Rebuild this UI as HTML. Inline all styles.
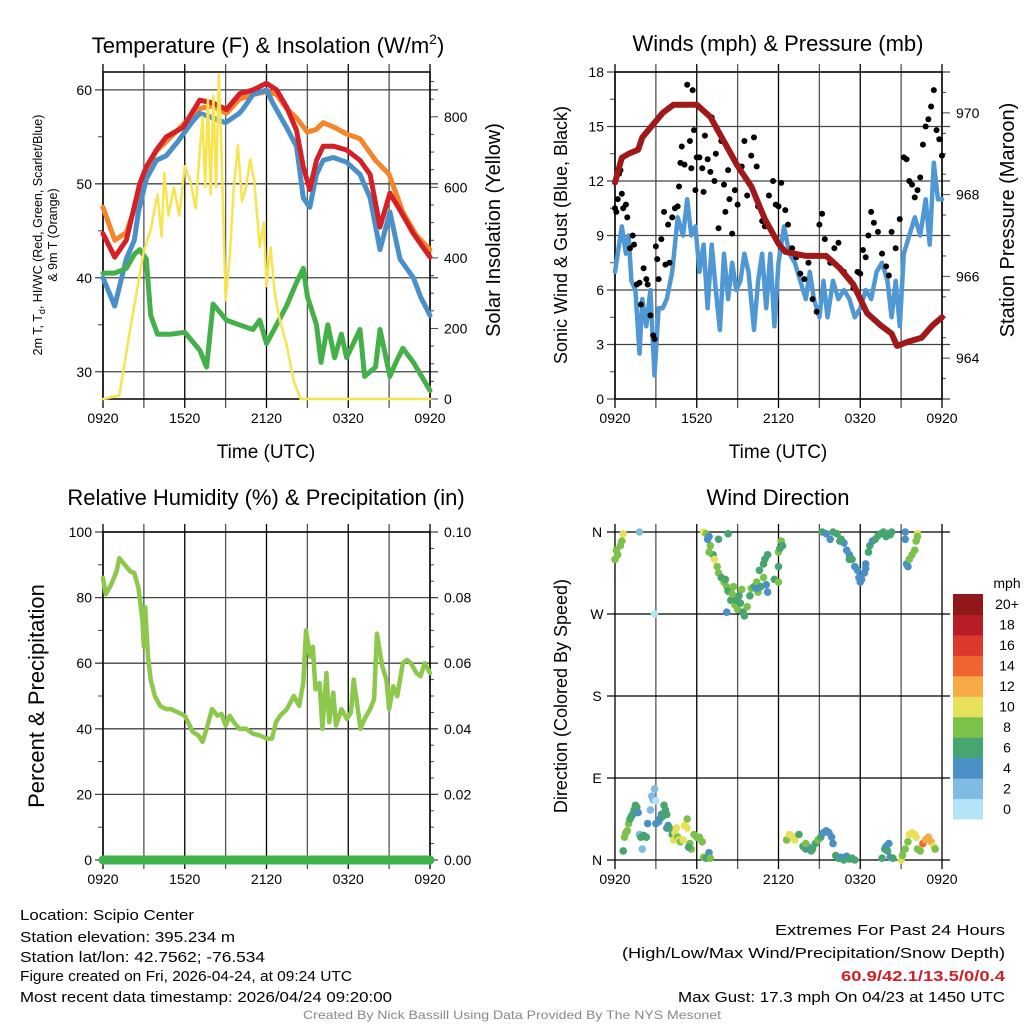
<!DOCTYPE html>
<html><head><meta charset="utf-8">
<style>
html,body{margin:0;padding:0;background:#fff;}
svg{display:block;font-family:"Liberation Sans",Arial,sans-serif;}
</style></head>
<body>
<svg id="fig" width="1024" height="1024" viewBox="0 0 1024 1024" xmlns="http://www.w3.org/2000/svg">
<rect width="1024" height="1024" fill="#fff"/>
<g id="p1"></g>
<g id="p2"></g>
<g id="p3"></g>
<g id="p4"></g>
<g font-family="'Liberation Sans Narrow','Liberation Sans',sans-serif" font-size="15" fill="#000">
<text x="20" y="920" textLength="174" lengthAdjust="spacingAndGlyphs">Location: Scipio Center</text>
<text x="20" y="942" textLength="215" lengthAdjust="spacingAndGlyphs">Station elevation: 395.234 m</text>
<text x="20" y="962" textLength="245" lengthAdjust="spacingAndGlyphs">Station lat/lon: 42.7562; -76.534</text>
<text x="20" y="981" textLength="332" lengthAdjust="spacingAndGlyphs">Figure created on Fri, 2026-04-24, at 09:24 UTC</text>
<text x="20" y="1002" textLength="372" lengthAdjust="spacingAndGlyphs">Most recent data timestamp: 2026/04/24 09:20:00</text>
<text x="775" y="935" textLength="230" lengthAdjust="spacingAndGlyphs">Extremes For Past 24 Hours</text>
<text x="622" y="958" textLength="383" lengthAdjust="spacingAndGlyphs">(High/Low/Max Wind/Precipitation/Snow Depth)</text>
<text x="841" y="981" textLength="164" lengthAdjust="spacingAndGlyphs" font-weight="bold" fill="#d0202a">60.9/42.1/13.5/0/0.4</text>
<text x="678" y="1002" textLength="327" lengthAdjust="spacingAndGlyphs">Max Gust: 17.3 mph On 04/23 at 1450 UTC</text>
<text x="303" y="1019" textLength="418" lengthAdjust="spacingAndGlyphs" font-size="12" fill="#888">Created By Nick Bassill Using Data Provided By The NYS Mesonet</text>
</g>
</svg>
<script>
// ---------- DATA (time in hours since 0920 UTC) ----------
const xTickLabels = ["0920","1520","2120","0320","0920"];
const tempTicks = [30,40,50,60];
const solarTicks = [0,200,400,600,800];
const windTicks = [0,3,6,9,12,15,18];
const presTicks = [964,966,968,970];
const rhTicks = [0,20,40,60,80,100];
const precipTicks = ["0.00","0.02","0.04","0.06","0.08","0.10"];
const dirTicks = ["N","E","S","W","N"];
const speedClasses = ["0","2","4","6","8","10","12","14","16","18","20+"];
const speedColors = ["#b5e3f8","#7fbbe3","#4a8fc5","#47a56f","#7cc24a","#e6e05a","#f5a947","#ef6430","#dc382c","#b81d25","#8f181b"];

const redT = [0,44.7, 0.86,42.2, 1.71,44, 2.69,50, 3.18,51.8, 3.92,53.6, 4.65,55, 5.88,56, 7.1,58.9, 8.08,58.6, 9.06,57.9, 10.04,59.6, 11.02,60, 12,60.7, 12.74,60, 13.47,58.2, 14.2,55.7, 14.7,51.8, 15.18,49.4, 15.67,52.5, 16.16,54, 16.9,54, 17.88,53.6, 18.86,52.5, 19.6,51, 20.33,45.4, 21.06,49, 21.8,47.2, 22.78,44.7, 24,42.2];
const orangeT = [0,47.5, 0.86,44, 1.71,44.8, 2.69,49, 3.18,51.5, 3.92,53.5, 5,55, 6,56.5, 7.1,58, 8.08,58.3, 9.06,57.5, 10,59, 11,59.5, 12,59.8, 12.74,59.5, 13.47,58, 14.2,57, 15,55.5, 15.67,55.8, 16.16,56.5, 17,56, 17.88,55.3, 18.86,54.8, 20,52.5, 21,51, 22,47, 23,44.5, 24,43];
const blueT = [0,40, 0.86,37, 1.71,42, 2.3,44, 2.6,47, 3.18,50.5, 3.92,52.5, 4.65,53, 5.5,54.5, 6.5,56.5, 7.1,57.5, 8.08,57, 9,56.5, 10,57.5, 10.3,58, 11,59.5, 12,60, 12.5,58.5, 13.47,56, 14.2,54, 14.7,48.5, 15.18,47.5, 15.67,51, 16.16,52.5, 16.9,52.8, 17.88,52.3, 18.86,51, 19.6,48.5, 20.33,43, 21.06,47, 21.8,42, 22.78,40, 23.3,38, 24,36];
const greenTd = [0,40.5, 0.86,40.5, 1.71,41, 2.3,42.5, 2.69,43, 3.18,42, 3.5,36, 4,34, 5,34, 6,34.2, 7.1,32.3, 7.6,30.5, 8.08,37.2, 9.06,35.5, 10,35, 11,34.5, 11.5,35.5, 12,33, 12.74,35, 13.47,37, 14.2,39.5, 14.7,41, 15,38, 15.67,35, 16,31, 16.5,35, 17,31.5, 17.5,34, 17.88,31.5, 18.86,34.5, 19.2,29.5, 20,30.5, 20.33,34.5, 21.06,29.5, 21.5,31, 22,32.5, 22.78,31, 24,28];
const solar = [0,0, 1.2,10, 2,200, 3,420, 3.5,480, 4,580, 4.3,460, 4.5,640, 4.8,520, 5.2,600, 5.6,520, 6,660, 6.4,620, 6.8,540, 7.1,700, 7.3,800, 7.5,600, 7.7,850, 7.9,580, 8.1,860, 8.3,600, 8.5,920, 8.7,700, 9,280, 9.3,400, 9.6,600, 9.9,720, 10.2,560, 10.5,600, 10.8,680, 11.1,620, 11.5,430, 11.8,500, 12,320, 12.3,430, 12.6,300, 13,220, 13.5,150, 14,50, 14.5,0, 24,0];

const pressure = [0,968.3, 0.5,968.9, 1,969.0, 1.7,969.1, 2,969.4, 3,969.8, 3.5,970.0, 4.3,970.2, 5,970.2, 6,970.2, 7,969.9, 8,969.3, 9,968.7, 10,968.2, 11,967.4, 12,966.8, 12.5,966.6, 14,966.5, 15.5,966.5, 16.5,966.2, 17.5,965.8, 18.5,965.1, 19.5,964.8, 20.3,964.6, 20.7,964.3, 21.5,964.4, 22.5,964.5, 23.3,964.8, 24,965.0];
const windSpeed = [0,7, 0.3,8.5, 0.5,9.5, 0.8,8, 1,9, 1.2,6.5, 1.5,6, 1.8,2.5, 2,5.5, 2.3,4, 2.6,6, 2.9,1.3, 3.2,5, 3.5,5, 3.8,5.5, 4.2,7, 4.6,10, 5,9, 5.3,11, 5.6,9, 5.9,9.5, 6.2,7, 6.5,8.5, 6.8,5, 7.1,8.5, 7.4,6, 7.7,3.8, 8,8, 8.3,5.5, 8.6,7.5, 8.9,6, 9.2,6.5, 9.5,8, 9.8,7, 10.2,3.8, 10.5,6.5, 10.8,8, 11.1,5, 11.4,8, 11.7,4, 12,7.5, 12.4,9.5, 12.8,8, 13.2,7.5, 13.6,6.5, 14,5.5, 14.3,7, 14.6,5.5, 15,4.5, 15.3,6.5, 15.6,4.5, 16,6.5, 16.4,5.5, 16.8,6, 17.2,5.5, 17.6,4.5, 18,5, 18.4,6, 18.8,5.5, 19.2,7, 19.6,7.5, 20,6.5, 20.3,4.5, 20.6,6.5, 20.9,4, 21.2,8, 21.6,9, 22,10, 22.4,9, 22.8,11, 23.1,8.5, 23.4,13, 23.7,11, 24,11];
const gusts = [0,10.5, 0.1,10.3, 0.2,11, 0.3,12.4, 0.4,12.6, 0.5,11.3, 0.6,10.5, 0.8,10.7, 0.9,10, 1.1,8.3, 1.3,9, 1.4,8.5, 1.6,6.3, 1.8,6.4, 1.9,5.2, 2.1,7.2, 2.3,6.6, 2.4,6.3, 2.6,4.6, 2.8,3.5, 2.9,3.3, 3.0,8.4, 3.1,7.7, 3.2,6.6, 3.4,8.8, 3.6,10.3, 3.7,7.4, 3.9,9.6, 4.0,7.5, 4.2,10, 4.4,10.5, 4.6,10.6, 4.7,11.7, 4.8,13, 4.9,13.9, 5.1,12.9, 5.3,17.3, 5.5,14.2, 5.6,12.7, 5.7,17, 5.8,14.8, 5.9,11.5, 6,13.3, 6.2,13.3, 6.4,12.7, 6.5,11.4, 6.6,14.5, 6.8,13.2, 7,12.5, 7.1,15.5, 7.3,12, 7.4,13.5, 7.6,9.4, 7.8,14.2, 8,11.8, 8.1,10.3, 8.3,12.6, 8.4,11, 8.6,9.1, 8.8,11.5, 9,10.7, 9.3,12.8, 9.5,14.2, 9.7,11.2, 10,13.4, 10.2,14.4, 10.4,12.8, 10.5,10.6, 10.8,9.8, 11,9.5, 11.3,11.2, 11.6,12, 11.8,10.7, 12,10.6, 12.2,11.9, 12.5,10.4, 12.7,9.6, 13,8.3, 13.3,7.8, 13.6,6.9, 13.9,6.6, 14.2,7.5, 14.5,5.5, 14.8,4.8, 15,9.6, 15.2,10.2, 15.4,8.8, 15.8,7.5, 16.1,8.3, 16.4,8.6, 16.8,7, 17.2,6.6, 17.5,6.1, 17.8,7, 18,6.9, 18.2,8.2, 18.4,7.8, 18.6,9, 18.8,10.3, 19,9.7, 19.3,9.2, 19.6,8, 19.9,7.3, 20.1,6.8, 20.3,9.2, 20.6,8.3, 20.9,9.9, 21.2,13.3, 21.4,13.2, 21.6,12, 21.8,11.8, 22,11.1, 22.2,11.5, 22.4,12.2, 22.6,14, 22.8,15, 23,15.4, 23.2,16.1, 23.4,17, 23.6,14.8, 23.8,14.3, 24,13.4];

const rh = [0,86, 0.2,81, 0.6,84, 1,88, 1.2,92, 1.6,90, 2,88, 2.3,87.5, 2.6,83, 2.9,73, 3.0,65, 3.1,77, 3.3,62, 3.5,55, 3.8,50, 4.2,47, 4.6,46, 5,46, 5.5,45, 6,44, 6.6,39, 7,38, 7.3,36, 7.6,40, 8,46, 8.4,44, 8.7,44.5, 9,41, 9.3,44, 9.6,42, 10,40, 10.5,40, 11,38.5, 11.5,38, 12,37, 12.4,37, 12.7,42, 13,44, 13.5,46, 14,50, 14.4,47, 14.7,54, 14.9,70, 15.2,62, 15.4,65, 15.6,52, 15.9,54, 16.1,40, 16.4,57, 16.6,42, 16.9,51, 17.1,41, 17.5,46, 17.9,43, 18.2,45, 18.4,55, 18.7,46, 18.9,40, 19.2,43, 19.6,46, 19.9,49, 20.1,69, 20.3,64, 20.5,59, 20.8,55, 21.0,46, 21.3,53, 21.6,50, 22,60, 22.3,61, 22.6,60, 23,57, 23.3,56, 23.6,60, 24,57];
const precip = [0,0, 24,0];

// wind direction points: hour, degrees, speed(mph)
const dirPoints = [0,330,8, 0.2,335,8, 0.4,345,8, 0.5,350,8, 0.6,358,10, 0.1,340,8, 1.8,360,2, 2.9,270,0,
6.5,360,10, 6.7,358,8, 6.9,355,4, 7.0,345,8, 7.2,335,6, 7.3,330,10, 7.5,322,8, 7.6,315,8, 7.8,310,6, 8.0,305,8, 8.2,300,8, 8.3,295,6, 8.5,285,6, 8.6,292,8, 8.8,280,8, 8.9,285,6, 9.0,275,8, 9.1,290,6, 9.2,282,6, 9.4,272,6, 9.5,268,6, 8.2,272,4, 8.7,300,8, 9.3,297,8, 9.7,278,8, 9.9,290,6, 10.0,298,8, 10.2,300,6, 10.4,305,8, 10.5,294,8, 10.7,300,6, 10.9,310,8, 11.1,302,4, 11.2,294,4, 10.6,318,6, 10.9,325,6, 11.0,330,6, 11.2,335,6, 10.4,298,4, 12.0,338,8, 12.1,342,6, 12.2,350,8, 12.0,322,6, 12.3,345,6, 11.7,308,6, 12.0,305,8, 8.3,358,6, 8.1,308,6, 7.6,352,6, 6.8,352,4, 6.9,338,8,
15.2,360,6, 15.5,358,4, 15.8,352,4, 16.0,360,6, 16.3,358,6, 16.5,350,6, 16.8,348,4, 17.0,340,4, 17.2,335,4, 17.4,330,6, 17.6,322,4, 17.8,318,4, 17.9,310,4, 18.0,305,4, 18.1,308,4, 18.3,315,4, 18.4,325,4, 18.6,338,6, 18.7,345,6, 18.9,350,4, 19.1,352,6, 19.3,356,6, 19.5,358,6, 19.7,360,6, 19.9,355,6, 20.0,358,6, 20.2,357,6, 20.3,360,6, 16.6,352,6, 17.2,330,6, 18.4,320,4, 21.3,360,4, 21.3,352,4, 21.4,325,4, 21.5,322,4, 21.6,330,8, 21.8,335,8, 22.0,340,8, 22.1,350,8, 22.2,358,10, 22.2,355,8,
0.6,10,6, 0.7,25,8, 0.8,30,8, 0.9,32,8, 1.0,40,8, 1.1,45,6, 1.2,48,6, 1.3,50,6, 1.4,55,6, 1.5,60,6, 1.6,58,6, 1.7,52,4, 1.8,28,2, 1.9,25,6, 2.0,12,2, 2.1,27,6, 2.3,25,6, 2.4,40,4, 2.6,55,2, 2.7,70,2, 2.8,66,2, 2.9,78,2, 3.0,65,0, 3.0,40,4, 3.2,42,4, 3.3,45,4, 3.4,50,4, 3.5,48,6, 3.6,60,6, 3.7,55,6, 3.8,50,6, 3.9,38,4, 3.8,35,4, 4.0,35,6, 4.2,28,6, 4.3,22,10, 4.4,30,10, 4.5,35,10, 4.6,25,8, 4.7,22,10, 4.8,20,8, 5.0,22,10, 5.1,38,10, 5.3,45,8, 5.3,35,10, 5.5,18,8, 5.6,12,8, 6.0,25,8, 6.2,25,8, 6.4,20,8, 6.5,3,8, 6.7,2,6, 6.9,8,4, 7.0,2,8, 5.8,28,8, 5.4,14,6,
12.6,22,8, 12.8,28,10, 13.0,26,10, 13.2,22,10, 13.5,28,6, 13.8,15,6, 14.0,12,6, 14.2,14,4, 14.5,12,6, 14.7,18,6, 14.9,22,8, 15.1,25,6, 15.3,30,4, 15.5,32,4, 15.7,30,4, 15.9,25,4, 16.0,18,4, 16.2,5,6, 16.4,2,6, 16.6,3,4, 16.8,0,6, 17.0,4,4, 17.2,1,6, 17.4,2,6, 17.6,0,6, 14.4,10,6, 14.0,18,8,
19.6,2,6, 19.8,12,6, 19.9,15,4, 20.1,18,4, 20.0,10,6, 20.2,3,4, 20.4,2,6, 21.0,0,10, 21.1,5,8, 21.3,12,8, 21.5,20,8, 21.6,28,10, 21.8,30,10, 22.0,28,10, 22.1,25,10, 22.2,12,8, 22.4,10,8, 22.6,18,14, 22.8,22,12, 23.0,25,12, 23.2,20,12, 23.4,15,10, 23.5,12,8];

// ---------- helpers ----------
const NS = "http://www.w3.org/2000/svg";
function mk(parent, tag, attrs, text){
  const e = document.createElementNS(NS, tag);
  for (const k in attrs) e.setAttribute(k, attrs[k]);
  if (text !== undefined) e.textContent = text;
  parent.appendChild(e);
  return e;
}
function linScale(d0,d1,r0,r1){ return v => r0 + (v-d0)*(r1-r0)/(d1-d0); }

function frame(g, L, R, T, B, xs){
  // vertical grid lines every 3h
  for (let h=0; h<=24; h+=3){
    const l = mk(g,"line",{x1:xs(h),x2:xs(h),y1:T-8,y2:B+9,stroke:(h%6===0)?"#000":"#555","stroke-width":1.3});
    
    
  }
  xTickLabels.forEach((lab,i)=>{
    const t = mk(g,"text",{x:xs(i*6),y:B+24,"text-anchor":"middle","font-size":14},lab);
    
    
  });
}
function hgrid(g, L, R, y, color){
  const l = mk(g,"line",{x1:L-8,x2:R+8,y1:y,y2:y,stroke:color||"#444","stroke-width":1.3});
  
  
}
function tick(g, x1, x2, y){
  mk(g,"line",{x1:x1,x2:x2,y1:y,y2:y,stroke:"#444","stroke-width":1});
}
function pathFrom(arr, xs, ys){
  let d="";
  for (let i=0;i<arr.length;i+=2) d += (i?"L":"M")+xs(arr[i]).toFixed(1)+","+ys(arr[i+1]).toFixed(1);
  return d;
}
function series(g, arr, xs, ys, color, w, name){
  const p = mk(g,"path",{d:pathFrom(arr,xs,ys),fill:"none",stroke:color,"stroke-width":w,"stroke-linejoin":"round","stroke-linecap":"round"});
  
  
  return p;
}
function title(g, x, y, txt, size, name){
  const t = mk(g,"text",{x:x,y:y,"text-anchor":"middle","font-size":size},txt);
  
  
  return t;
}
function vtitle(g, x, y, txt, size, name){
  const t = mk(g,"text",{x:x,y:y,"text-anchor":"middle","font-size":size,transform:`rotate(-90 ${x} ${y})`},txt);
  
  
  return t;
}

// ---------- Panel 1 ----------
(function(){
  const g = document.getElementById("p1");
  const L=103,R=430,T=72,B=399;
  const xs = linScale(0,24,L,R);
  const ty = linScale(27.1,61.9,B,T);
  const sy = linScale(0,927,B,T);
  frame(g,L,R,T,B,xs);
  tempTicks.forEach(v=>{
    hgrid(g,L,R,ty(v));
    const t = mk(g,"text",{x:L-11,y:ty(v)+5,"text-anchor":"end","font-size":14},v);
    
    
  });
  [35,45,55].forEach(v=>tick(g,L-5,L,ty(v)));
  for (let w=0; w<=900; w+=50) tick(g,R,R+(w%200===0?8:4),sy(w));
  solarTicks.forEach(v=>{
    const t = mk(g,"text",{x:R+14,y:sy(v)+5,"font-size":14},v);
    
    
  });
  mk(g,"rect",{x:L,y:T,width:R-L,height:B-T,fill:"none",stroke:"#000","stroke-width":1.5});
  series(g,orangeT,xs,ty,"#f5852a",5,"9m-temperature-line");
  series(g,blueT,xs,ty,"#4a90c8",5,"wind-chill-line");
  series(g,redT,xs,ty,"#d62027",5,"2m-temperature-line");
  series(g,greenTd,xs,ty,"#44b04a",5,"dewpoint-line");
  series(g,solar,xs,sy,"#f8e450",2.5,"solar-insolation-line");
  const tt = mk(g,"text",{x:268,y:53,"text-anchor":"middle","font-size":22},"Temperature (F) & Insolation (W/m");
  
  
  mk(tt,"tspan",{dy:-9,"font-size":14},"2");
  mk(tt,"tspan",{dy:9},")");
  title(g,266,458,"Time (UTC)",19,"x-axis-title");
  const lt = mk(g,"text",{x:42,y:235,"text-anchor":"middle","font-size":12.5,transform:"rotate(-90 42 235)"},"2m T, T");
  
  
  mk(lt,"tspan",{dy:3,"font-size":9},"d");
  mk(lt,"tspan",{dy:-3},", HI/WC (Red, Green, Scarlet/Blue)");
  vtitle(g,57,235,"& 9m T (Orange)",12.5,"temperature-y-axis-title-2");
  vtitle(g,500,230,"Solar Insolation (Yellow)",20,"solar-y-axis-title");
})();

// ---------- Panel 2 ----------
(function(){
  const g = document.getElementById("p2");
  const L=615,R=942,T=72,B=399;
  const xs = linScale(0,24,L,R);
  const wy = linScale(0,18,B,T);
  const py = linScale(963,971,B,T);
  frame(g,L,R,T,B,xs);
  windTicks.forEach(v=>{
    hgrid(g,L,R,wy(v));
    const t = mk(g,"text",{x:L-11,y:wy(v)+5,"text-anchor":"end","font-size":14},v);
    
    
  });
  for (let v=1.5; v<18; v+=3) tick(g,L-5,L,wy(v));
  for (let p=963; p<=971; p+=0.5) tick(g,R,R+(p%2===0?8:4),py(p));
  presTicks.forEach(v=>{
    const t = mk(g,"text",{x:R+14,y:py(v)+5,"font-size":14},v);
    
    
  });
  mk(g,"rect",{x:L,y:T,width:R-L,height:B-T,fill:"none",stroke:"#000","stroke-width":1.5});
  series(g,windSpeed,xs,wy,"#4f98d3",4.5,"sonic-wind-line");
  for (let i=0;i<gusts.length;i+=2){
    const c = mk(g,"circle",{cx:xs(gusts[i]),cy:wy(gusts[i+1]),r:3,fill:"#000"});
    
    
  }
  series(g,pressure,xs,py,"#a01818",6,"pressure-line");
  title(g,778,51,"Winds (mph) & Pressure (mb)",22,"winds-title");
  title(g,778,458,"Time (UTC)",19,"x-axis-title");
  vtitle(g,567,235,"Sonic Wind & Gust (Blue, Black)",18,"wind-y-axis-title");
  vtitle(g,1014,220,"Station Pressure (Maroon)",20,"pressure-y-axis-title");
})();

// ---------- Panel 3 ----------
(function(){
  const g = document.getElementById("p3");
  const L=103,R=430,T=532,B=860;
  const xs = linScale(0,24,L,R);
  const ry = linScale(0,100,B,T);
  const qy = linScale(0,0.1,B,T);
  frame(g,L,R,T,B,xs);
  rhTicks.forEach((v,i)=>{
    hgrid(g,L,R,ry(v));
    const t = mk(g,"text",{x:L-11,y:ry(v)+5,"text-anchor":"end","font-size":14},v);
    
    
    const t2 = mk(g,"text",{x:R+14,y:ry(v)+5,"font-size":14},precipTicks[i]);
    
    
  });
  for (let v=10; v<100; v+=20) tick(g,L-5,L,ry(v));
  for (let v=0; v<=100; v+=5) tick(g,R,R+(v%20===0?8:4),ry(v));
  mk(g,"rect",{x:L,y:T,width:R-L,height:B-T,fill:"none",stroke:"#000","stroke-width":1.5});
  series(g,rh,xs,ry,"#8cc84b",4.5,"relative-humidity-line");
  series(g,precip,xs,qy,"#3fb34a",9,"precipitation-line");
  title(g,266,505,"Relative Humidity (%) & Precipitation (in)",22,"humidity-title");
  vtitle(g,44,696,"Percent & Precipitation",22,"rh-y-axis-title");
})();

// ---------- Panel 4 ----------
(function(){
  const g = document.getElementById("p4");
  const L=615,R=942,T=532,B=860;
  const xs = linScale(0,24,L,R);
  const dy = linScale(0,360,B,T);
  frame(g,L,R,T,B,xs);
  dirTicks.forEach((lab,i)=>{
    hgrid(g,L,R,dy(i*90),"#000");
    const t = mk(g,"text",{x:L-18,y:dy(i*90)+5,"text-anchor":"middle","font-size":14},lab);
    
    
  });
  for (let i=0;i<dirPoints.length;i+=3){
    const sp = dirPoints[i+2];
    const idx = Math.min(10, Math.max(0, Math.round(sp/2)));
    const c = mk(g,"circle",{cx:xs(dirPoints[i]),cy:dy(dirPoints[i+1]),r:3.8,fill:speedColors[idx]});
    
    
  }
  title(g,778,505,"Wind Direction",22,"wind-direction-title");
  vtitle(g,567,696,"Direction (Colored By Speed)",18,"direction-y-axis-title");
  // colorbar
  const cbTop=594, cbBot=819, n=speedColors.length, h=(cbBot-cbTop)/n;
  const lg = mk(g,"g",{});
  
  
  const mt = mk(lg,"text",{x:1007,y:588,"text-anchor":"middle","font-size":14},"mph");
  
  
  for (let i=0;i<n;i++){
    const y = cbBot - (i+1)*h;
    const r = mk(lg,"rect",{x:953,y:y,width:30,height:h+0.5,fill:speedColors[i]});
    
    
    const t = mk(lg,"text",{x:1007,y:y+h/2+5,"text-anchor":"middle","font-size":14},speedClasses[i]);
    
    
  }
})();
</script>
</body></html>
